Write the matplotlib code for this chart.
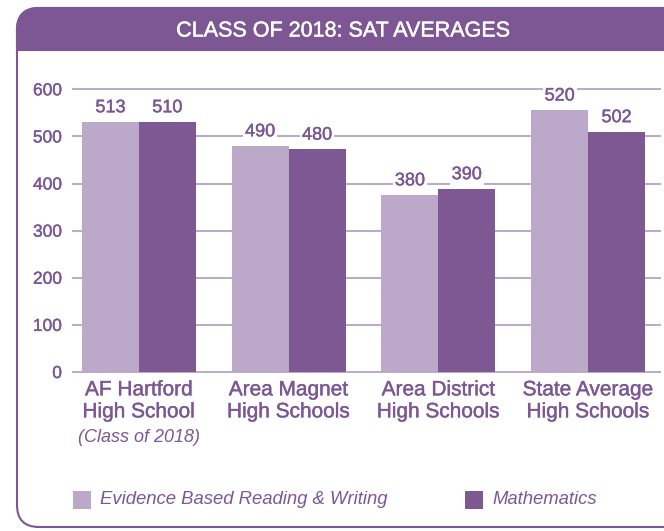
import numpy as np
import matplotlib
matplotlib.use("Agg")
import matplotlib.pyplot as plt
import matplotlib.patheffects as pe
from matplotlib.patches import FancyBboxPatch, Rectangle

plt.rcParams['font.family'] = ['Liberation Sans', 'DejaVu Sans']

# data
schools = ["AF Hartford\nHigh School", "Area Magnet\nHigh Schools",
           "Area District\nHigh Schools", "State Average\nHigh Schools"]
reading_height = [531, 480, 376, 556]
math_height = [531, 473, 389, 510]
reading_label = ["513", "490", "380", "520"]
math_label = ["510", "480", "390", "502"]
yticks = [0, 100, 200, 300, 400, 500, 600]

light = "#BCA9C9"
dark = "#7D5893"
purple = "#7D5794"
grid_col = "#BDA8CB"


def medium(color, w=0.3):
    # fake a medium font weight
    return [pe.withStroke(linewidth=w, foreground=color)]


W, H = 664, 531
fig = plt.figure(figsize=(W / 100, H / 100), dpi=100)

# background layer in pixel coordinates
bg = fig.add_axes([0, 0, 1, 1])
bg.set_xlim(0, W)
bg.set_ylim(H, 0)
bg.axis("off")

frame = FancyBboxPatch((17, 8), 720, 519, boxstyle="round,pad=0,rounding_size=22",
                       fc="white", ec=purple, lw=1.5)
bg.add_patch(frame)
banner = FancyBboxPatch((17, 8), 720, 42, boxstyle="round,pad=0,rounding_size=22",
                        fc=purple, ec=purple, lw=1.5)
bg.add_patch(banner)
bg.add_patch(Rectangle((17, 30), 720, 20, fc=purple, ec=purple, lw=1.5))
bg.text(343, 31, "CLASS OF 2018: SAT AVERAGES", color="white", fontsize=15.5,
        ha="center", va="center", path_effects=medium("white", 0.3))

# legend
bg.add_patch(Rectangle((73, 491), 18, 18, fc=light, ec="none"))
bg.text(100, 500, "Evidence Based Reading & Writing", color=purple, fontsize=13.3,
        style="italic", ha="left", va="center")
bg.add_patch(Rectangle((465, 491), 18, 18, fc=dark, ec="none"))
bg.text(492, 500, "Mathematics", color=purple, fontsize=13.3,
        style="italic", ha="left", va="center")

# main chart
ax = fig.add_axes([73 / W, 1 - 372 / H, (660 - 73) / W, (372 - 89.3) / H])
ax.set_facecolor("none")
x = np.arange(len(schools))
w = 0.38
for y in yticks:
    ax.axhline(y, color=grid_col, lw=1.4, zorder=0, clip_on=False)
b1 = ax.bar(x - w / 2, reading_height, w, color=light, zorder=2)
b2 = ax.bar(x + w / 2, math_height, w, color=dark, zorder=2)

for bars, labels in [(b1, reading_label), (b2, math_label)]:
    for bar, lab in zip(bars, labels):
        ax.annotate(lab, (bar.get_x() + bar.get_width() / 2, bar.get_height()),
                    xytext=(0, 4), textcoords="offset points", ha="center", va="bottom",
                    color=purple, fontsize=13, zorder=3, path_effects=medium(purple),
                    bbox=dict(boxstyle="square,pad=0.1", fc="white", ec="none"))

ax.set_xlim(-0.44, 3.48)
ax.set_ylim(0, 600)
ax.set_yticks(yticks)
ax.set_yticklabels([str(v) for v in yticks], color=purple, fontsize=12.5)
ax.tick_params(axis="y", length=0, pad=8)
ax.set_xticks(x)
ax.set_xticklabels(schools, color=purple, fontsize=15, linespacing=1.2)
ax.tick_params(axis="x", length=0, pad=6)
for t in ax.get_xticklabels() + ax.get_yticklabels():
    t.set_path_effects(medium(purple))
for s in ax.spines.values():
    s.set_visible(False)
ax.text(0, -140, "(Class of 2018)", color=purple, fontsize=13, style="italic",
        ha="center", va="center")

fig.savefig("out.png", dpi=100)
